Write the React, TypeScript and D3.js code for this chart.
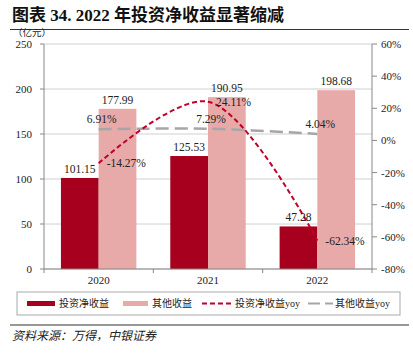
import React, { useEffect } from 'react'
import * as d3 from 'd3'

// chart data
const years = ['2020', '2021', '2022']
const invIncome = [101.15, 125.53, 47.28]
const otherIncome = [177.99, 190.95, 198.68]
const invYoy = [-14.27, 24.11, -62.34]
const otherYoy = [6.91, 7.29, 4.04]
const leftTicks = [0, 50, 100, 150, 200, 250]
const rightTicks = [-80, -60, -40, -20, 0, 20, 40, 60]

const W = 413
const H = 354
const margin = { left: 44, right: 41, top: 44, bottom: 85 }

const DARK = '#A6001E'
const PINK = '#E8A9A9'
const RED = '#C0002A'
const GRAY = '#A6A6A6'
const SERIF = '"Liberation Serif", "Times New Roman", "Noto Sans CJK SC", serif'
const CJK = '"Liberation Serif", "Noto Sans CJK SC", sans-serif'

const App = () => {
  useEffect(() => {
    document.body.style.margin = '0'
  }, [])

  const x0 = margin.left
  const x1 = W - margin.right
  const yTop = margin.top
  const yBot = H - margin.bottom

  const x = d3.scaleBand().domain(years).range([x0, x1]).paddingInner(0.31).paddingOuter(0.155)
  const xOuter = d3.scaleBand().domain(years).range([x0, x1])
  const bw = x.bandwidth() / 2
  const yL = d3.scaleLinear().domain([0, 250]).range([yBot, yTop])
  const yR = d3.scaleLinear().domain([-80, 60]).range([yBot, yTop])
  const cx = (d: string) => (xOuter(d) as number) + xOuter.bandwidth() / 2

  const invLine = d3
    .line<number>()
    .x((_, i) => cx(years[i]))
    .y((d) => yR(d))
    .curve(d3.curveCatmullRom.alpha(0.5))
  const otherLine = d3
    .line<number>()
    .x((_, i) => cx(years[i]))
    .y((d) => yR(d))
    .curve(d3.curveCatmullRom.alpha(0.5))

  const fmt = (v: number) => v.toFixed(2)
  const pct = (v: number) => v.toFixed(2) + '%'

  return (
    <svg width={W} height={H} style={{ display: 'block', background: '#fff' }}>
      {/* title */}
      <text x={12} y={21} fontFamily={CJK} fontWeight="bold" fontSize={17} fill="#111">
        图表 34. 2022 年投资净收益显著缩减
      </text>
      <line x1={10} x2={409} y1={29.5} y2={29.5} stroke="#333" strokeWidth={1.2} />
      <text x={13} y={36} fontFamily={CJK} fontSize={9.5} fill="#222">
        （亿元）
      </text>

      {/* gridlines */}
      {leftTicks.map((t) => (
        <line key={'g' + t} x1={x0} x2={x1} y1={yL(t)} y2={yL(t)} stroke="#D0D0D0" strokeWidth={1} />
      ))}

      {/* bars */}
      {years.map((yr, i) => (
        <g key={yr}>
          <rect x={x(yr)} y={yL(invIncome[i])} width={bw} height={yBot - yL(invIncome[i])} fill={DARK} />
          <rect
            x={(x(yr) as number) + bw}
            y={yL(otherIncome[i])}
            width={bw}
            height={yBot - yL(otherIncome[i])}
            fill={PINK}
          />
        </g>
      ))}

      {/* axes */}
      <line x1={x0} x2={x0} y1={yTop} y2={yBot} stroke="#888" />
      <line x1={x1} x2={x1} y1={yTop} y2={yBot} stroke="#888" />
      <line x1={x0} x2={x1} y1={yBot} y2={yBot} stroke="#888" />
      {leftTicks.map((t) => (
        <g key={'l' + t}>
          <line x1={x0 - 4} x2={x0} y1={yL(t)} y2={yL(t)} stroke="#888" />
          <text x={32} y={yL(t) + 4} textAnchor="end" fontFamily={SERIF} fontSize={11} fill="#222">
            {t}
          </text>
        </g>
      ))}
      {rightTicks.map((t) => (
        <g key={'r' + t}>
          <line x1={x1} x2={x1 + 5} y1={yR(t)} y2={yR(t)} stroke="#888" />
          <text x={381} y={yR(t) + 4} fontFamily={SERIF} fontSize={11} fill="#222">
            {t + '%'}
          </text>
        </g>
      ))}
      {years.map((yr) => (
        <line
          key={'t' + yr}
          x1={xOuter(yr)}
          x2={xOuter(yr)}
          y1={yBot}
          y2={yBot + 4}
          stroke="#888"
        />
      ))}
      <line x1={x1} x2={x1} y1={yBot} y2={yBot + 4} stroke="#888" />
      {years.map((yr) => (
        <text key={'x' + yr} x={cx(yr)} y={yBot + 15} textAnchor="middle" fontFamily={SERIF} fontSize={11} fill="#222">
          {yr}
        </text>
      ))}

      {/* yoy lines */}
      <path d={otherLine(otherYoy) || ''} fill="none" stroke={GRAY} strokeWidth={2.5} strokeDasharray="13,6" />
      <path d={invLine(invYoy) || ''} fill="none" stroke={RED} strokeWidth={2} strokeDasharray="5,3" />

      {/* bar labels */}
      {years.map((yr, i) => (
        <g key={'bl' + yr} fontFamily={SERIF} fontSize={11.5} fill="#222" textAnchor="middle">
          <text x={(x(yr) as number) + bw / 2} y={yL(invIncome[i]) - 5}>
            {fmt(invIncome[i])}
          </text>
          <text x={(x(yr) as number) + bw * 1.5} y={yL(otherIncome[i]) - 5}>
            {fmt(otherIncome[i])}
          </text>
        </g>
      ))}

      {/* line labels */}
      {years.map((yr, i) => (
        <g key={'ll' + yr} fontFamily={SERIF} fontSize={11.5} fill="#222">
          <text x={cx(yr) + 3} y={yR(otherYoy[i]) - 6} textAnchor="middle">
            {pct(otherYoy[i])}
          </text>
          <text x={cx(yr) + 8} y={yR(invYoy[i]) + 4}>
            {pct(invYoy[i])}
          </text>
        </g>
      ))}

      {/* legend */}
      <rect x={17} y={292} width={383} height={23} fill="none" stroke="#AAA" strokeWidth={1} />
      <g fontFamily={CJK} fontSize={10} fill="#222">
        <rect x={27} y={301} width={28} height={5} fill={DARK} />
        <text x={59} y={307}>投资净收益</text>
        <rect x={123} y={301} width={25} height={5} fill={PINK} />
        <text x={152} y={307}>其他收益</text>
        <line x1={202} x2={232} y1={303.5} y2={303.5} stroke={RED} strokeWidth={2} strokeDasharray="5,3" />
        <text x={235} y={307}>投资净收益yoy</text>
        <line x1={308} x2={333} y1={303.5} y2={303.5} stroke={GRAY} strokeWidth={2} strokeDasharray="12,5" />
        <text x={335} y={307}>其他收益yoy</text>
      </g>

      {/* source */}
      <line x1={10} x2={409} y1={325} y2={325} stroke="#333" strokeWidth={1.2} />
      <text x={12} y={340} fontFamily={CJK} fontSize={12} fontStyle="italic" fill="#222">
        资料来源：万得，中银证券
      </text>
    </svg>
  )
}

export default App
